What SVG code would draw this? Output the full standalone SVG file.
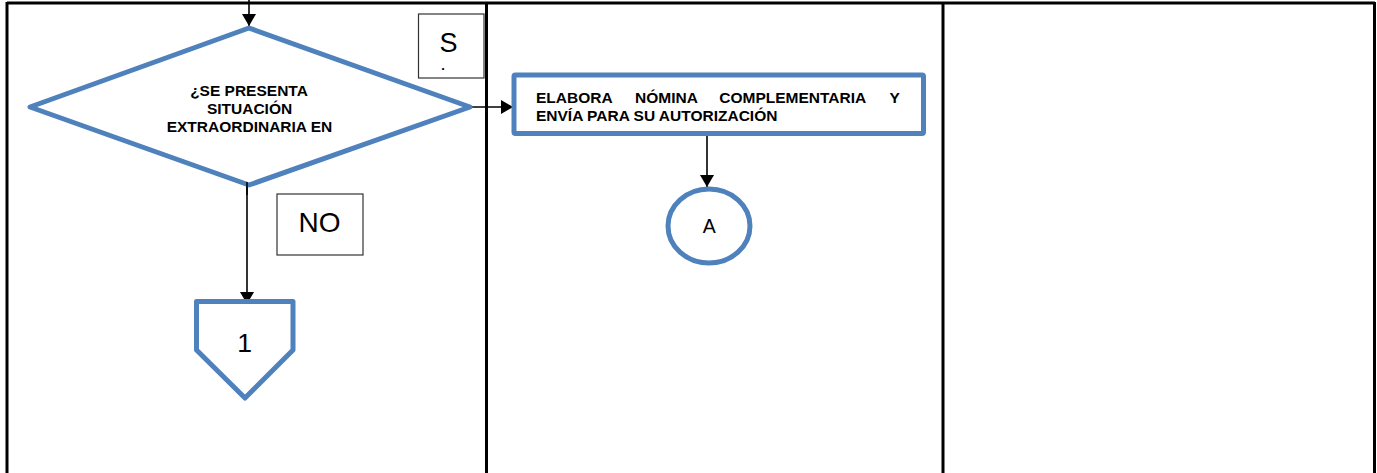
<svg xmlns="http://www.w3.org/2000/svg" width="1377" height="473" viewBox="0 0 1377 473">
<style>
.grid{stroke:#000;stroke-width:3;fill:none}
.shape{fill:#fff;stroke:#4F81BD;stroke-width:5;stroke-linejoin:round}
.lbl{fill:#fff;stroke:#333;stroke-width:1.2}
.conn{stroke:#000;stroke-width:1.6;fill:none}
.b{font-family:"Liberation Sans",Arial,sans-serif;font-weight:bold;font-size:15.5px;fill:#000}
.n{font-family:"Liberation Sans",Arial,sans-serif;fill:#000}
</style>
<defs>
<marker id="ah" viewBox="0 0 12 14" refX="12" refY="7" markerWidth="12" markerHeight="14" markerUnits="userSpaceOnUse" orient="auto">
<path d="M0,0 L12,7 L0,14 Z" fill="#000"/>
</marker>
</defs>
<rect width="1377" height="473" fill="#fff"/>
<g id="table">
<line class="grid" x1="7" y1="3" x2="1375" y2="3"/>
<line class="grid" x1="7" y1="2" x2="7" y2="473"/>
<line class="grid" x1="486.5" y1="2" x2="486.5" y2="473"/>
<line class="grid" x1="943" y1="2" x2="943" y2="473"/>
<line class="grid" x1="1374.5" y1="2" x2="1374.5" y2="473"/>
</g>
<g id="connectors">
<line class="conn" x1="249" y1="0" x2="249" y2="26" marker-end="url(#ah)"/>
<line class="conn" x1="471" y1="107" x2="513" y2="107" marker-end="url(#ah)"/>
<line class="conn" x1="707" y1="136" x2="707" y2="187" marker-end="url(#ah)"/>
<line class="conn" x1="247" y1="182" x2="247" y2="304" marker-end="url(#ah)"/>
</g>
<g id="decision">
<polygon class="shape" points="249,28 470,107 249,185 30,107"/>
<text class="b" text-anchor="middle"><tspan x="249" y="96">¿SE PRESENTA</tspan><tspan x="249.5" y="113.5">SITUACIÓN</tspan><tspan x="249.5" y="131.5">EXTRAORDINARIA EN</tspan></text>
</g>
<line class="conn" x1="247" y1="182" x2="247" y2="195"/>
<g id="label-si">
<rect class="lbl" x="418.5" y="14" width="65.5" height="64"/>
<text class="n" x="448.5" y="51.5" font-size="27" text-anchor="middle">S</text>
<text class="n" x="443" y="69.5" font-size="13" font-weight="bold" text-anchor="middle">.</text>
</g>
<g id="label-no">
<rect class="lbl" x="277" y="194" width="86" height="61"/>
<text class="n" x="319.5" y="232" font-size="28" text-anchor="middle">NO</text>
</g>
<g id="process">
<rect class="shape" x="514" y="75" width="409.5" height="58.5" rx="1.5"/>
<text class="b"><tspan x="536" y="102.7">ELABORA</tspan><tspan x="635" y="102.7">NÓMINA</tspan><tspan x="719.3" y="102.7">COMPLEMENTARIA</tspan><tspan x="889.5" y="102.7">Y</tspan><tspan x="536" y="120.7">ENVÍA PARA SU AUTORIZACIÓN</tspan></text>
</g>
<g id="connector-a">
<ellipse class="shape" cx="709" cy="226" rx="41" ry="37"/>
<text class="n" x="709.3" y="233.3" font-size="19.5" text-anchor="middle">A</text>
</g>
<g id="offpage-1">
<polygon class="shape" points="196.5,301.5 293,301.5 293,350 245,398 196.5,350"/>
<text class="n" x="244.5" y="351.5" font-size="26.5" text-anchor="middle">1</text>
</g>
</svg>
